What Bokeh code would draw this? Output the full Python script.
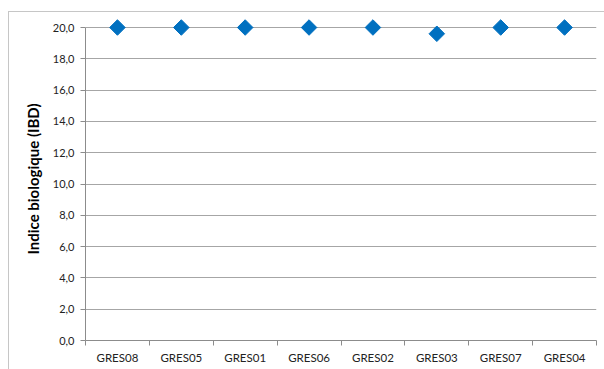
from bokeh.plotting import figure
from bokeh.models import (Range1d, FactorRange, LinearAxis, CategoricalAxis,
                          FixedTicker)
from bokeh.embed import file_html
from bokeh.resources import INLINE
import math

stations = ["GRES08", "GRES05", "GRES01", "GRES06", "GRES02", "GRES03", "GRES07", "GRES04"]
ibd = [20.0, 20.0, 20.0, 20.0, 20.0, 19.6, 20.0, 20.0]
y_ticks = [0, 2, 4, 6, 8, 10, 12, 14, 16, 18, 20]
y_tick_labels = {t: f"{t:.1f}".replace(".", ",") for t in y_ticks}

FONT = "Lato"
GRID = "#a6a6a6"
AXIS = "#8c8c8c"
TEXT = "#222222"

p = figure(width=596, height=358,
           x_range=FactorRange(*stations, range_padding=0),
           y_range=Range1d(0, 20.64),
           output_backend="svg", toolbar_location=None,
           x_axis_location=None,
           min_border_left=76, min_border_right=9,
           min_border_top=5, min_border_bottom=30)
p.margin = (11, 0, 0, 8)
p.styles = {"border-left": "1px solid #c6c6c6", "border-top": "1px solid #c6c6c6"}
p.outline_line_color = None
p.background_fill_color = "white"
p.border_fill_color = "white"

# y axis
p.yaxis.ticker = FixedTicker(ticks=y_ticks)
p.yaxis.major_label_overrides = y_tick_labels
p.yaxis.bounds = (0, 20)
p.yaxis.minor_tick_line_color = None
p.yaxis.major_tick_in = 0
p.yaxis.major_tick_out = 5
p.yaxis.major_tick_line_color = AXIS
p.yaxis.axis_line_color = AXIS
p.yaxis.major_label_text_font = FONT
p.yaxis.major_label_text_font_size = "11px"
p.yaxis.major_label_text_color = TEXT
p.yaxis.major_label_standoff = 6
p.yaxis.axis_label = "Indice biologique (IBD)"
p.yaxis.axis_label_text_font = FONT
p.yaxis.axis_label_text_font_size = "15px"
p.yaxis.axis_label_text_font_style = "bold"
p.yaxis.axis_label_text_color = "black"
p.yaxis.axis_label_standoff = 8

p.ygrid.ticker = FixedTicker(ticks=y_ticks)
p.ygrid.grid_line_color = GRID
p.xgrid.visible = False

# x axis: ticks at category boundaries (synthetic coordinates 0..n), no labels
bounds_ticks = list(range(len(stations) + 1))
tick_axis = LinearAxis(ticker=FixedTicker(ticks=bounds_ticks),
                       major_label_overrides={t: "" for t in bounds_ticks},
                       major_label_text_color=None,
                       major_label_text_font_size="1px", major_label_standoff=0,
                       major_tick_in=0, major_tick_out=5,
                       major_tick_line_color=AXIS, minor_tick_line_color=None,
                       axis_line_color=AXIS)
p.add_layout(tick_axis, "below")

label_axis = CategoricalAxis(major_tick_in=0, major_tick_out=0,
                             major_tick_line_color=None,
                             axis_line_color=None,
                             major_label_standoff=5,
                             major_label_text_font=FONT,
                             major_label_text_font_size="11.5px",
                             major_label_text_color=TEXT)
p.add_layout(label_axis, "below")

p.scatter(x=stations, y=ibd, marker="square", size=11, angle=math.pi / 4,
          fill_color="#0070C0", line_color="#0070C0")

open("out.html", "w").write(file_html(p, INLINE))
